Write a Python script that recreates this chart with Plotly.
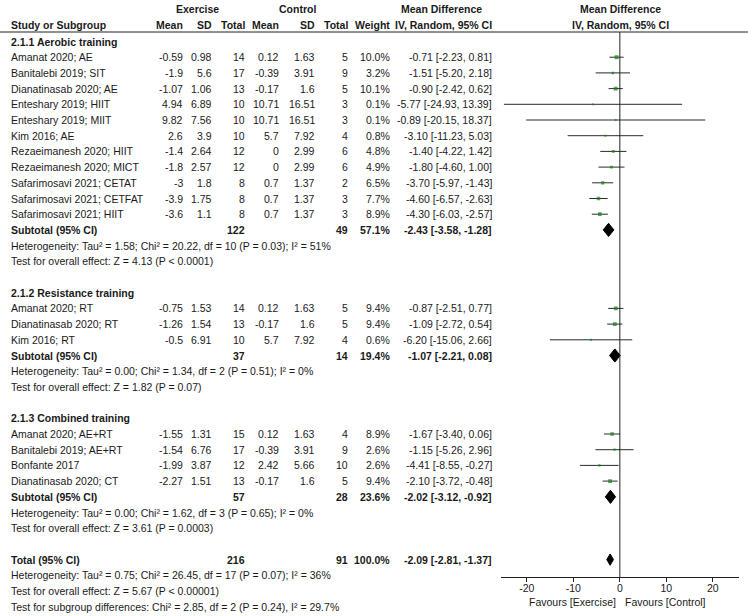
import plotly.graph_objects as go

# ---------------- data ----------------
studies = [
    "Amanat 2020; AE", "Banitalebi 2019; SIT", "Dianatinasab 2020; AE",
    "Enteshary 2019; HIIT", "Enteshary 2019; MIIT", "Kim 2016; AE",
    "Rezaeimanesh 2020; HIIT", "Rezaeimanesh 2020; MICT",
    "Safarimosavi 2021; CETAT", "Safarimosavi 2021; CETFAT", "Safarimosavi 2021; HIIT",
    "Amanat 2020; RT", "Dianatinasab 2020; RT", "Kim 2016; RT",
    "Amanat 2020; AE+RT", "Banitalebi 2019; AE+RT", "Bonfante 2017", "Dianatinasab 2020; CT",
]
study_group = [0, 0, 0, 0, 0, 0, 0, 0, 0, 0, 0, 1, 1, 1, 2, 2, 2, 2]
ex_mean = [-0.59, -1.9, -1.07, 4.94, 9.82, 2.6, -1.4, -1.8, -3, -3.9, -3.6,
           -0.75, -1.26, -0.5, -1.55, -1.54, -1.99, -2.27]
ex_sd = [0.98, 5.6, 1.06, 6.89, 7.56, 3.9, 2.64, 2.57, 1.8, 1.75, 1.1,
         1.53, 1.54, 6.91, 1.31, 6.76, 3.87, 1.51]
ex_n = [14, 17, 13, 10, 10, 10, 12, 12, 8, 8, 8, 14, 13, 10, 15, 17, 12, 13]
ct_mean = [0.12, -0.39, -0.17, 10.71, 10.71, 5.7, 0, 0, 0.7, 0.7, 0.7,
           0.12, -0.17, 5.7, 0.12, -0.39, 2.42, -0.17]
ct_sd = [1.63, 3.91, 1.6, 16.51, 16.51, 7.92, 2.99, 2.99, 1.37, 1.37, 1.37,
         1.63, 1.6, 7.92, 1.63, 3.91, 5.66, 1.6]
ct_n = [5, 9, 5, 3, 3, 4, 6, 6, 2, 3, 3, 5, 5, 4, 4, 9, 10, 5]
weight = [10.0, 3.2, 10.1, 0.1, 0.1, 0.8, 4.8, 4.9, 6.5, 7.7, 8.9,
          9.4, 9.4, 0.6, 8.9, 2.6, 2.6, 9.4]
md = [-0.71, -1.51, -0.90, -5.77, -0.89, -3.10, -1.40, -1.80, -3.70, -4.60, -4.30,
      -0.87, -1.09, -6.20, -1.67, -1.15, -4.41, -2.10]
ci_lo = [-2.23, -5.20, -2.42, -24.93, -20.15, -11.23, -4.22, -4.60, -5.97, -6.57, -6.03,
         -2.51, -2.72, -15.06, -3.40, -5.26, -8.55, -3.72]
ci_hi = [0.81, 2.18, 0.62, 13.39, 18.37, 5.03, 1.42, 1.00, -1.43, -2.63, -2.57,
         0.77, 0.54, 2.66, 0.06, 2.96, -0.27, -0.48]

group_titles = ["2.1.1 Aerobic training", "2.1.2 Resistance training", "2.1.3 Combined training"]
sub_ex_n = [122, 37, 57]
sub_ct_n = [49, 14, 28]
sub_weight = [57.1, 19.4, 23.6]
sub_md = [-2.43, -1.07, -2.02]
sub_lo = [-3.58, -2.21, -3.12]
sub_hi = [-1.28, 0.08, -0.92]
sub_het = [
    "Heterogeneity: Tau² = 1.58; Chi² = 20.22, df = 10 (P = 0.03); I² = 51%",
    "Heterogeneity: Tau² = 0.00; Chi² = 1.34, df = 2 (P = 0.51); I² = 0%",
    "Heterogeneity: Tau² = 0.00; Chi² = 1.62, df = 3 (P = 0.65); I² = 0%",
]
sub_test = [
    "Test for overall effect: Z = 4.13 (P < 0.0001)",
    "Test for overall effect: Z = 1.82 (P = 0.07)",
    "Test for overall effect: Z = 3.61 (P = 0.0003)",
]
total_ex_n = 216
total_ct_n = 91
total_weight = 100.0
total_md = -2.09
total_lo = -2.81
total_hi = -1.37
total_notes = [
    "Heterogeneity: Tau² = 0.75; Chi² = 26.45, df = 17 (P = 0.07); I² = 36%",
    "Test for overall effect: Z = 5.67 (P < 0.00001)",
    "Test for subgroup differences: Chi² = 2.85, df = 2 (P = 0.24), I² = 29.7%",
]
tick_vals = [-20, -10, 0, 10, 20]
tick_text = ["-20", "-10", "0", "10", "20"]
favours_left = "Favours [Exercise]"
favours_right = "Favours [Control]"

# ---------------- layout geometry ----------------
W, H = 748, 616
ROW0_PX = 41.5
ROW_PX = 15.7
AXIS_PX = 577
HEADER_LINE_PX = 32
FONT = "Liberation Sans, Arial, sans-serif"
TXT = "#1a1a1a"
FS = 10.5

col = dict(name=9, em=185, esd=214, en=247, cm=281, csd=317, cn=350, w=392, ci=494)

annotations = []


def ann(text, xpx, row, anchor="right", bold=False, size=FS):
    annotations.append(dict(
        text=f"<b>{text}</b>" if bold else text,
        x=xpx / W, xref="paper", y=row, yref="y",
        xanchor=anchor, yanchor="middle", showarrow=False,
        font=dict(family=FONT, size=size, color=TXT),
    ))


def fmt(v):
    return f"{v:g}"


def ci_text(m, lo, hi):
    return f"{m:.2f} [{lo:.2f}, {hi:.2f}]"


# headers
ann("Exercise", 197, -2.05, "center", True)
ann("Control", 297, -2.05, "center", True)
ann("Mean Difference", 441, -2.05, "center", True)
ann("Study or Subgroup", col["name"], -1.05, "left", True)
for key, lab in [("em", "Mean"), ("esd", "SD"), ("en", "Total"), ("cm", "Mean"),
                 ("csd", "SD"), ("cn", "Total"), ("w", "Weight"), ("ci", "IV, Random, 95% CI")]:
    ann(lab, col[key], -1.05, "right", True)
ann("Mean Difference", 620, -2.05, "center", True)
ann("IV, Random, 95% CI", 620, -1.05, "center", True)

line_x, line_y = [], []
sq_x, sq_y, sq_s = [], [], []
diamonds = []

row = 0
for g, title in enumerate(group_titles):
    ann(title, col["name"], row, "left", True)
    row += 1
    for i, name in enumerate(studies):
        if study_group[i] != g:
            continue
        ann(name, col["name"], row, "left")
        ann(fmt(ex_mean[i]), col["em"], row)
        ann(fmt(ex_sd[i]), col["esd"], row)
        ann(fmt(ex_n[i]), col["en"], row)
        ann(fmt(ct_mean[i]), col["cm"], row)
        ann(fmt(ct_sd[i]), col["csd"], row)
        ann(fmt(ct_n[i]), col["cn"], row)
        ann(f"{weight[i]:.1f}%", col["w"], row)
        ann(ci_text(md[i], ci_lo[i], ci_hi[i]), col["ci"], row)
        line_x += [ci_lo[i], ci_hi[i], None]
        line_y += [row, row, None]
        sq_x.append(md[i])
        sq_y.append(row)
        sq_s.append(1.8 + 0.21 * weight[i])
        row += 1
    ann("Subtotal (95% CI)", col["name"], row, "left", True)
    ann(fmt(sub_ex_n[g]), col["en"], row, "right", True)
    ann(fmt(sub_ct_n[g]), col["cn"], row, "right", True)
    ann(f"{sub_weight[g]:.1f}%", col["w"], row, "right", True)
    ann(ci_text(sub_md[g], sub_lo[g], sub_hi[g]), col["ci"], row, "right", True)
    diamonds.append((sub_md[g], sub_lo[g], sub_hi[g], row, 0.42))
    row += 1
    ann(sub_het[g], col["name"], row, "left")
    row += 1
    ann(sub_test[g], col["name"], row, "left")
    row += 2

ann("Total (95% CI)", col["name"], row, "left", True)
ann(fmt(total_ex_n), col["en"], row, "right", True)
ann(fmt(total_ct_n), col["cn"], row, "right", True)
ann(f"{total_weight:.1f}%", col["w"], row, "right", True)
ann(ci_text(total_md, total_lo, total_hi), col["ci"], row, "right", True)
diamonds.append((total_md, total_lo, total_hi, row, 0.36))
for note in total_notes:
    row += 1
    ann(note, col["name"], row, "left")

fig = go.Figure()
fig.add_trace(go.Scatter(x=line_x, y=line_y, mode="lines",
                         line=dict(color="#2a2a2a", width=1), hoverinfo="skip"))
fig.add_trace(go.Scatter(x=sq_x, y=sq_y, mode="markers",
                         marker=dict(symbol="square", size=sq_s, color="#127f12",
                                     line=dict(width=0)), hoverinfo="skip"))
dx, dy = [], []
for m, lo, hi, r, h in diamonds:
    dx += [lo, m, hi, m, lo, None]
    dy += [r, r - h, r, r + h, r, None]
fig.add_trace(go.Scatter(x=dx, y=dy, mode="lines", fill="toself", fillcolor="black",
                         line=dict(color="black", width=1), hoverinfo="skip"))

y_top = -ROW0_PX / ROW_PX
y_bot = (H - ROW0_PX) / ROW_PX

fig.update_layout(
    width=W, height=H, margin=dict(l=0, r=0, t=0, b=0),
    paper_bgcolor="white", plot_bgcolor="rgba(0,0,0,0)", showlegend=False,
    annotations=annotations,
    xaxis=dict(domain=[500.8 / W, 738.9 / W], range=[-25.6, 25.6], anchor="free",
               position=1 - AXIS_PX / H, showline=True, linecolor="#222", linewidth=1,
               ticks="outside", ticklen=4, tickcolor="#222", tickvals=tick_vals,
               ticktext=tick_text, showgrid=False, zeroline=False, fixedrange=True,
               ticklabelstandoff=-3,
               tickfont=dict(family=FONT, size=10.5, color=TXT)),
    yaxis=dict(domain=[0, 1], range=[y_bot, y_top], visible=False, fixedrange=True),
    shapes=[
        dict(type="line", xref="paper", yref="paper", x0=0, x1=1,
             y0=1 - HEADER_LINE_PX / H, y1=1 - HEADER_LINE_PX / H,
             line=dict(color="#222", width=1)),
        dict(type="line", xref="x", yref="paper", x0=0, x1=0,
             y0=1 - AXIS_PX / H, y1=1 - HEADER_LINE_PX / H,
             line=dict(color="#222", width=1)),
    ],
)
fig.add_annotation(text=favours_left, x=0, xref="x", xshift=-2, y=1 - 602 / H, yref="paper",
                   xanchor="right", yanchor="middle", showarrow=False,
                   font=dict(family=FONT, size=10.5, color=TXT))
fig.add_annotation(text=favours_right, x=0, xref="x", xshift=3, y=1 - 602 / H, yref="paper",
                   xanchor="left", yanchor="middle", showarrow=False,
                   font=dict(family=FONT, size=10.5, color=TXT))

fig.write_html("out.html", config={"displayModeBar": False},
               post_script="document.body.style.margin='0';")
